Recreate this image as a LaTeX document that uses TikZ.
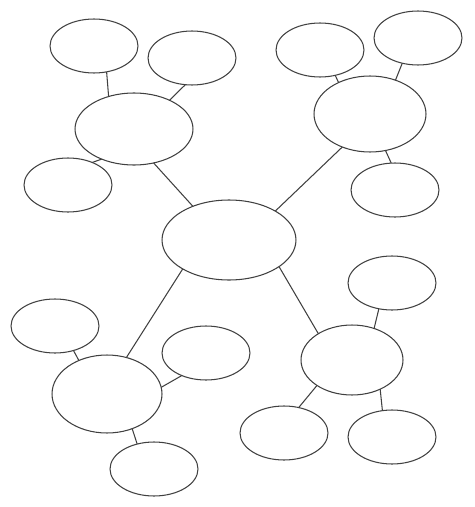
\documentclass[tikz,border=0pt]{standalone}
\usetikzlibrary{shapes.geometric}
\begin{document}
\begin{tikzpicture}[x=0.02cm,y=-0.02cm,line width=0.6pt,
  bubble/.style={draw=black!75,ellipse,inner sep=0pt,outer sep=0pt,minimum width=1.76cm,minimum height=1.08cm},
  hub/.style={draw=black!75,ellipse,inner sep=0pt,outer sep=0pt},
  link/.style={draw=black!75}]
\useasboundingbox (0,0) rectangle (474,507);

\node[hub,minimum width=2.68cm,minimum height=1.6cm] (mid) at (229,240) {};

\node[hub,minimum width=2.36cm,minimum height=1.44cm] (tl) at (134,129) {};
\node[bubble] (tla) at (94,46) {};
\node[bubble] (tlb) at (192,58) {};
\node[bubble] (tlc) at (68,185) {};

\node[hub,minimum width=2.24cm,minimum height=1.52cm] (tr) at (370,114) {};
\node[bubble] (tra) at (320,50) {};
\node[bubble] (trb) at (418,38) {};
\node[bubble] (trc) at (395,190) {};

\node[hub,minimum width=2.2cm,minimum height=1.56cm] (bl) at (107,394) {};
\node[bubble] (bla) at (55,326) {};
\node[bubble] (blb) at (206,353) {};
\node[bubble] (blc) at (154,469) {};

\node[hub,minimum width=2.04cm,minimum height=1.4cm] (br) at (352,360) {};
\node[bubble] (bra) at (392,283) {};
\node[bubble] (brb) at (284,433) {};
\node[bubble] (brc) at (392,437) {};

\draw[link] (tl.-60) -- (mid.137);
\draw[link] (tr.-130) -- (mid.32);
\draw[link] (mid.-148) -- (bl.62);
\draw[link] (mid.-28) -- (br.142);

\draw[link] (tla.-64) -- (tl.128);
\draw[link] (tlb.-104) -- (tl.39);
\draw[link] (tlc.43) -- (tl.-137);

\draw[link] (tra.-59) -- (tr.135);
\draw[link] (trb.-122) -- (tr.53);
\draw[link] (tr.-67) -- (trc.98);

\draw[link] (bla.-53) -- (bl.130);
\draw[link] (bl.7) -- (blb.-137);
\draw[link] (bl.-54) -- (blc.124);

\draw[link] (br.55) -- (bra.-117);
\draw[link] (br.-144) -- (brb.60);
\draw[link] (br.-46) -- (brc.110);
\end{tikzpicture}
\end{document}
